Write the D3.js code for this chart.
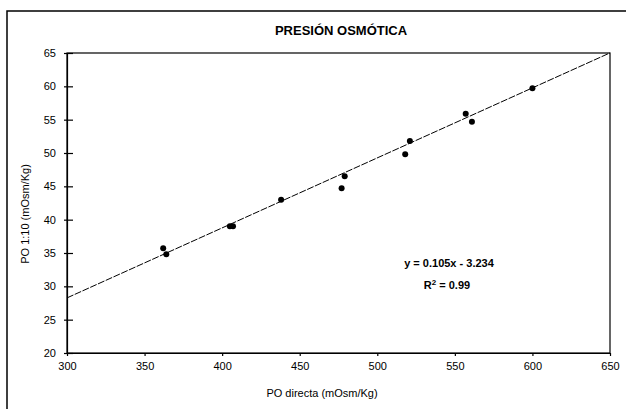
<!DOCTYPE html>
<html>
<head>
<meta charset="utf-8">
<script src="https://cdn.jsdelivr.net/npm/d3@7/dist/d3.min.js"></script>
<style>
html,body{margin:0;padding:0;background:#fff;}
svg{display:block;font-family:"Liberation Sans",Arial,sans-serif;}
</style>
</head>
<body>
<script>
const title = "PRESIÓN OSMÓTICA";
const xLabel = "PO directa (mOsm/Kg)";
const yLabel = "PO 1:10 (mOsm/Kg)";
const xTicks = [300, 350, 400, 450, 500, 550, 600, 650];
const yTicks = [20, 25, 30, 35, 40, 45, 50, 55, 60, 65];
const xValues = [362, 364, 405, 407, 438, 477, 479, 518, 521, 557, 561, 600];
const yValues = [35.7, 34.8, 39.0, 39.0, 43.0, 44.7, 46.5, 49.8, 51.8, 55.9, 54.7, 59.7];
const slope = 0.105, intercept = -3.234;
const eqText = "y = 0.105x - 3.234";
const r2Value = "0.99";

const W = 626, H = 409;
const svg = d3.select("body").append("svg").attr("width", W).attr("height", H);

// outer chart frame (left & top visible)
svg.append("rect").attr("x", 7).attr("y", 11).attr("width", W + 20).attr("height", H + 20)
  .attr("fill", "none").attr("stroke", "#000").attr("stroke-width", 1.5);

const x = d3.scaleLinear().domain([300, 650]).range([67, 610]);
const y = d3.scaleLinear().domain([20, 65]).range([353, 53]);

svg.append("text").attr("x", 341).attr("y", 35).attr("text-anchor", "middle")
  .attr("font-weight", "bold").attr("font-size", 13).text(title);

// plot frame
svg.append("rect").attr("x", x(300)).attr("y", y(65)).attr("width", x(650) - x(300)).attr("height", y(20) - y(65))
  .attr("fill", "none").attr("stroke", "#000").attr("stroke-width", 1.2);

const xAxis = svg.append("g").attr("transform", `translate(0,${y(20)})`)
  .call(d3.axisBottom(x).tickValues(xTicks).tickSize(3).tickSizeOuter(0).tickPadding(6));
const yAxis = svg.append("g").attr("transform", `translate(${x(300)},0)`)
  .call(d3.axisLeft(y).tickValues(yTicks).tickSize(3).tickSizeOuter(0).tickPadding(8));
[xAxis, yAxis].forEach(g => {
  g.select(".domain").attr("stroke", "#000").attr("stroke-width", 1.2);
  g.selectAll(".tick line").attr("stroke", "#000").attr("stroke-width", 1.2);
  g.selectAll(".tick text").attr("font-size", 11).attr("fill", "#000")
    .attr("font-family", "'Liberation Sans',Arial,sans-serif");
});
yAxis.selectAll(".tick line").attr("x2", 6).attr("x1", -3);

// trend line
const xr = x.domain();
svg.append("line")
  .attr("x1", x(xr[0])).attr("y1", y(slope * xr[0] + intercept))
  .attr("x2", x(xr[1])).attr("y2", y(slope * xr[1] + intercept))
  .attr("stroke", "#000").attr("stroke-width", 1).attr("stroke-dasharray", "7,1.5");

// points
svg.append("g").selectAll("circle").data(xValues.map((v, i) => [v, yValues[i]])).join("circle")
  .attr("cx", d => x(d[0])).attr("cy", d => y(d[1])).attr("r", 3).attr("fill", "#000");

// equation
svg.append("text").attr("x", 449).attr("y", 267).attr("text-anchor", "middle")
  .attr("font-weight", "bold").attr("font-size", 11).text(eqText);
const r2 = svg.append("text").attr("x", 447).attr("y", 289).attr("text-anchor", "middle")
  .attr("font-weight", "bold").attr("font-size", 11);
r2.append("tspan").text("R");
r2.append("tspan").attr("dy", -4).attr("font-size", 8).text("2");
r2.append("tspan").attr("dy", 4).text(" = " + r2Value);

// axis titles
svg.append("text").attr("x", 322).attr("y", 397).attr("text-anchor", "middle")
  .attr("font-size", 11).text(xLabel);
svg.append("text").attr("transform", "translate(29,214) rotate(-90)").attr("text-anchor", "middle")
  .attr("font-size", 11).text(yLabel);
</script>
</body>
</html>
